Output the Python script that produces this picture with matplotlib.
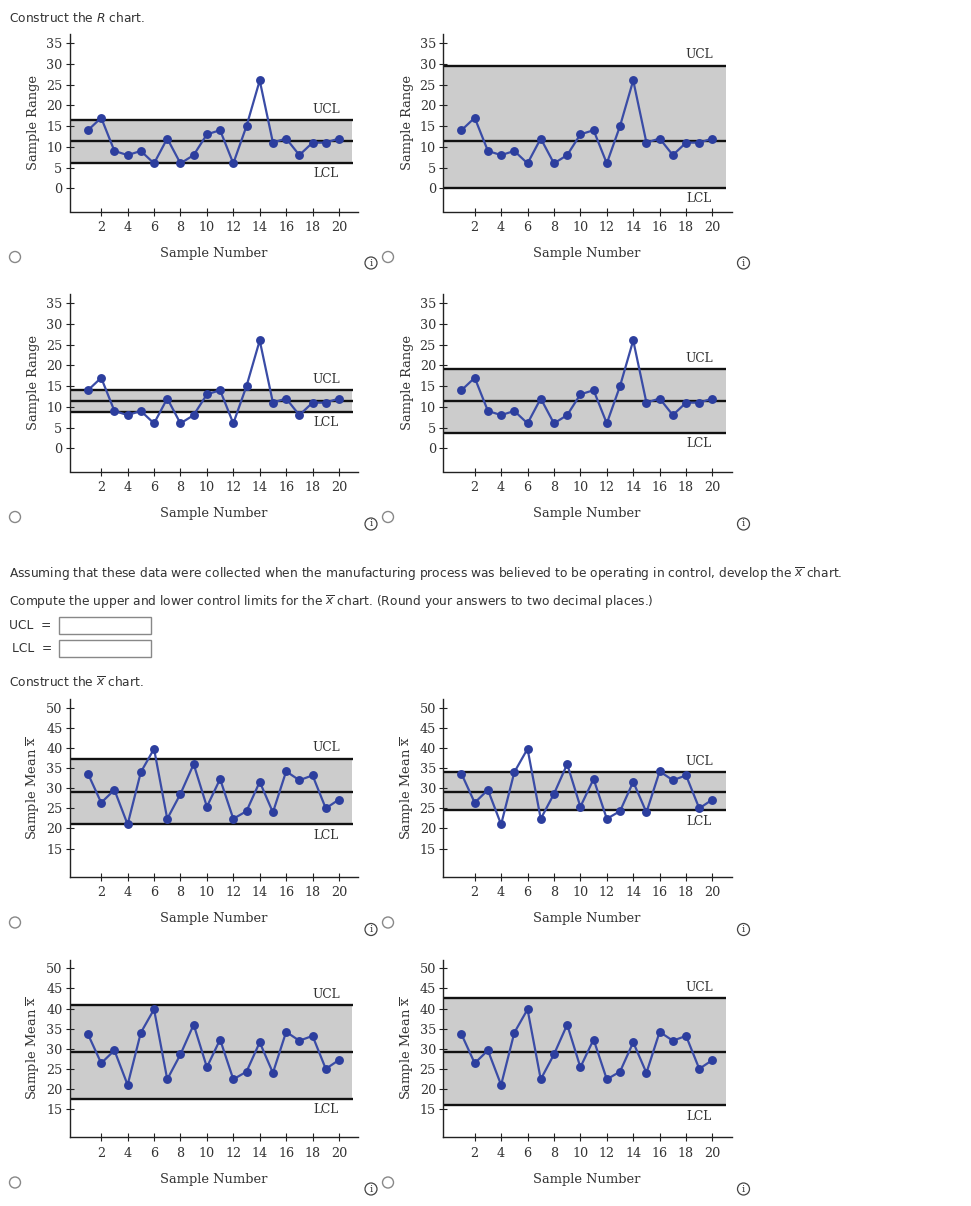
import matplotlib
matplotlib.use('Agg')
import matplotlib.pyplot as plt
from matplotlib.patches import Circle, Rectangle

samples = list(range(1, 21))
ranges = [14, 17, 9, 8, 9, 6, 12, 6, 8, 13, 14, 6, 15, 26, 11, 12, 8, 11, 11, 12]
means = [33.6, 26.4, 29.6, 21, 34, 39.8, 22.4, 28.6, 36, 25.4, 32.3, 22.4, 24.3, 31.6, 24, 34.2, 32, 33.2, 25, 27.2]

r_center = 11.35
r_limits = [(16.5, 6.2), (29.6, 0), (14, 8.7), (19, 3.7)]
x_center = 29.1
x_limits = [(37.4, 21), (34, 24.5), (40.8, 17.6), (42.5, 15.9)]

r_ticks = [0, 5, 10, 15, 20, 25, 30, 35]
x_ticks = [15, 20, 25, 30, 35, 40, 45, 50]
sample_ticks = list(range(2, 21, 2))

W, H = 971, 1206
TEXT = '#333333'
BLUE = '#2c3e9e'
SERIF = 'DejaVu Serif'

fig = plt.figure(figsize=(W / 100, H / 100), dpi=100, facecolor='white')

# page layer in pixel coordinates
page = fig.add_axes([0, 0, 1, 1])
page.set_xlim(0, W)
page.set_ylim(H, 0)
page.axis('off')


def chart(left, top, values, center, limits, yticks, ylim, ylabel):
    right, bottom = left + 288.5, top + 177.5
    ax = fig.add_axes([left / W, 1 - bottom / H, (right - left) / W, (bottom - top) / H])
    ax.patch.set_alpha(0)
    ax.set_xlim(-0.4, 21.44)
    ax.set_ylim(*ylim)
    ucl, lcl = limits
    ax.fill_between([-0.4, 21], lcl, ucl, color='#cccccc', lw=0, zorder=1)
    for v in (ucl, center, lcl):
        ax.plot([-0.4, 21.05], [v, v], color='#111111', lw=1.7, zorder=2, solid_capstyle='butt', clip_on=False)
    ax.plot(samples, values, color='#3a4ca6', lw=1.6, zorder=3)
    ax.plot(samples, values, ls='none', marker='o', ms=6.4, color=BLUE, mew=0, zorder=4)
    ax.annotate('UCL', (19, ucl), xytext=(0, 3), textcoords='offset points', ha='center', va='bottom',
                family=SERIF, fontsize=8.8, color=TEXT)
    ax.annotate('LCL', (19, lcl), xytext=(0, -3), textcoords='offset points', ha='center', va='top',
                family=SERIF, fontsize=8.8, color=TEXT)
    for side in ('top', 'right'):
        ax.spines[side].set_visible(False)
    for side in ('left', 'bottom'):
        ax.spines[side].set_linewidth(1.0)
        ax.spines[side].set_color('#222222')
    ax.set_xticks(sample_ticks)
    ax.set_yticks(yticks)
    ax.tick_params(axis='both', direction='inout', length=6, width=0.8, color='#222222',
                   labelsize=9.2, labelcolor=TEXT, pad=2)
    ax.tick_params(axis='x', pad=4)
    for lab in ax.get_xticklabels() + ax.get_yticklabels():
        lab.set_family(SERIF)
    ax.text(144 / 288.5, -42 / 177.5, 'Sample Number', transform=ax.transAxes, ha='center', va='center',
            family=SERIF, fontsize=9.4, color=TEXT)
    ax.text(-36 / 288.5, 0.5 + ylabel[1], ylabel[0], transform=ax.transAxes, rotation=90, ha='center', va='center',
            family=SERIF, fontsize=9.4, color=TEXT, math_fontfamily='dejavuserif')
    return ax


R_LIM = (-5.6, 37.2)
X_LIM = (8.05, 52.2)
R_LABEL = ('Sample Range', 0.0)
X_LABEL = ('Sample Mean $\\overline{\\mathrm{x}}$', 0.0)

lefts = [69.5, 443]
for i, lim in enumerate(r_limits):
    chart(lefts[i % 2], [34, 294][i // 2], ranges, r_center, lim, r_ticks, R_LIM, R_LABEL)
for i, lim in enumerate(x_limits):
    chart(lefts[i % 2], [699, 959.5][i // 2], means, x_center, lim, x_ticks, X_LIM, X_LABEL)

# question text
sans = dict(family='DejaVu Sans', fontsize=8.8, color=TEXT, va='center', ha='left')
page.text(9, 17.5, 'Construct the $R$ chart.', **sans)
page.text(9, 574, 'Assuming that these data were collected when the manufacturing process was believed '
                  'to be operating in control, develop the $\\overline{x}$ chart.', **sans)
page.text(9, 602.5, 'Compute the upper and lower control limits for the $\\overline{x}$ chart. '
                    '(Round your answers to two decimal places.)', **sans)
page.text(9, 625.5, 'UCL  =', **sans)
page.text(12, 648.5, 'LCL  =', **sans)
page.text(9, 682.5, 'Construct the $\\overline{x}$ chart.', **sans)
for y in (617, 640):
    page.add_patch(Rectangle((58.5, y), 92, 17, fc='white', ec='#888888', lw=1))

# radio buttons and info icons
for y_radio, y_info in [(257, 263), (517, 524), (922.5, 929.5), (1182.5, 1189)]:
    for x_radio, x_info in [(15, 371), (388, 743.5)]:
        page.add_patch(Circle((x_radio, y_radio), 5.5, fc='white', ec='#888888', lw=1))
        page.add_patch(Circle((x_info, y_info), 6, fc='white', ec='#444444', lw=0.9))
        page.text(x_info, y_info, 'i', family=SERIF, fontsize=7.5, color='#333333',
                  ha='center', va='center')

fig.savefig('out.png', dpi=100)
